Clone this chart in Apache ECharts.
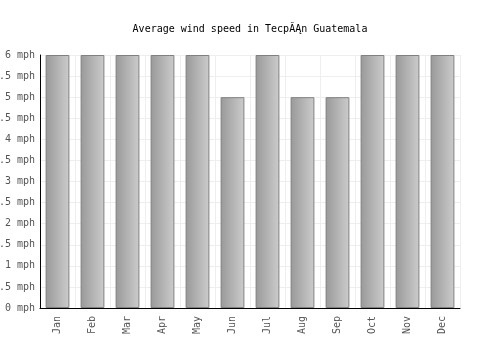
<!DOCTYPE html>
<html><head><meta charset="utf-8">
<script src="https://cdn.jsdelivr.net/npm/echarts@6/dist/echarts.min.js"></script>
<style>html,body{margin:0;padding:0;background:#fff}#c{width:500px;height:350px}</style>
</head><body><div id="c"></div>
<script>
const titleText = 'Average wind speed in TecpĂĄn Guatemala';
const months = ['Jan','Feb','Mar','Apr','May','Jun','Jul','Aug','Sep','Oct','Nov','Dec'];
const windMph = [6,6,6,6,6,5,6,5,5,6,6,6];
const yMin = 0, yMax = 6, yStep = 0.5;
const unit = ' mph';

const font = '"DejaVu Sans Mono", monospace';
const chart = echarts.init(document.getElementById('c'), null, {renderer:'canvas'});
chart.setOption({
  animation:false,
  title:{text:titleText,left:'center',top:19,textStyle:{fontFamily:font,fontSize:10,fontWeight:'normal',color:'#000'}},
  grid:{left:40,right:40,top:55,bottom:42,containLabel:false,outerBoundsMode:'none'},
  xAxis:{type:'category',data:months,
    axisLine:{lineStyle:{color:'#000',width:1}},
    axisTick:{show:false},
    axisLabel:{rotate:90,fontFamily:font,fontSize:10,color:'#555',margin:8},
    splitLine:{show:true,lineStyle:{color:'#eee',width:1}}},
  yAxis:{type:'value',min:yMin,max:yMax,interval:yStep,
    axisLine:{show:true,lineStyle:{color:'#000',width:1}},
    axisTick:{show:false},
    axisLabel:{fontFamily:font,fontSize:10,color:'#555',margin:5,formatter:v=>v+unit},
    splitLine:{lineStyle:{color:'#eee',width:1}}},
  series:[{type:'bar',data:windMph,barWidth:'68%',
    itemStyle:{borderColor:'#808080',borderWidth:1,
      color:new echarts.graphic.LinearGradient(0,0,1,0,[{offset:0,color:'#999'},{offset:1,color:'#ccc'}])}}]
});
</script></body></html>
